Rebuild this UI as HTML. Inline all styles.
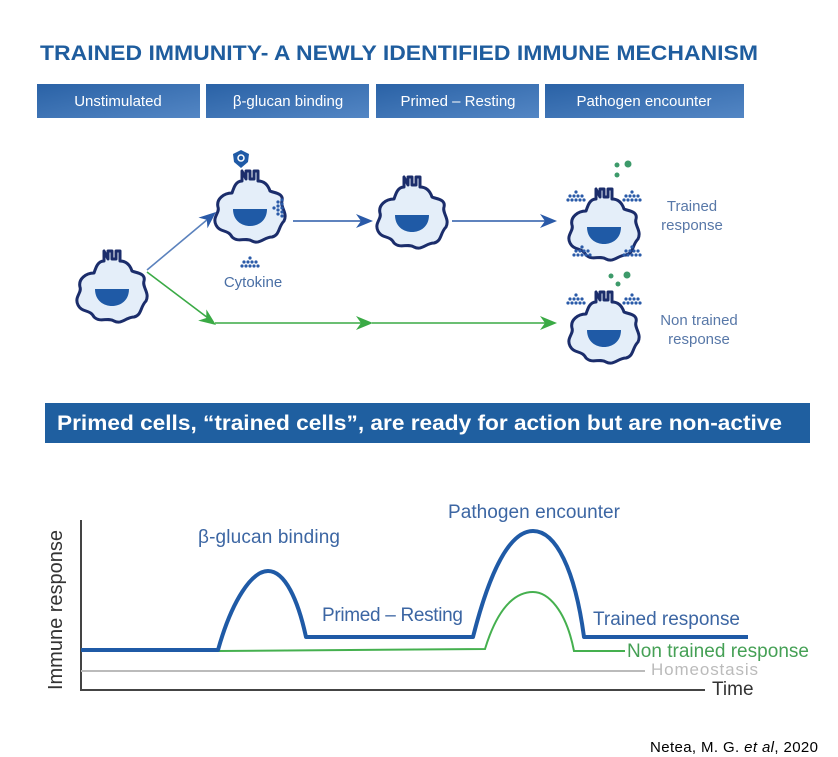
<!DOCTYPE html>
<html><head><meta charset="utf-8"><style>
body{margin:0;background:#fff}
svg{display:block}
text{font-family:"Liberation Sans",sans-serif}
</style></head><body>
<svg width="838" height="757" viewBox="0 0 838 757" xmlns="http://www.w3.org/2000/svg">
<defs>
<linearGradient id="hg" x1="0" y1="0" x2="1" y2="1"><stop offset="0" stop-color="#2a62a6"/><stop offset="1" stop-color="#5386c4"/></linearGradient>
<g id="cell">
<path d="M-8,-36 L-8,-26 C-14,-26 -16,-20 -18,-14 C-26,-14 -34,-8 -32,0 C-30,6 -38,10 -34,18 C-30,26 -22,22 -18,30 C-12,36 -4,30 2,34 C10,38 14,30 22,30 C30,28 28,20 34,14 C38,6 30,0 32,-6 C34,-14 24,-14 20,-16 C18,-22 14,-26 8,-26 L8,-36 L4,-36 L4,-28 L0,-28 L0,-36 L-4,-36 L-4,-28 Z" fill="#e4eef9" stroke="#1b2d6b" stroke-width="3" stroke-linejoin="round"/>
<path d="M-17,2 L17,2 C17,14 8,19 0,19 C-8,19 -17,14 -17,2 Z" fill="#1f5aa6"/>
</g>
<g id="dots" fill="#2a5aa8"><circle cx="0" cy="0" r="1.6"/><circle cx="4" cy="0" r="1.6"/><circle cx="8" cy="0" r="1.6"/><circle cx="2" cy="-4" r="1.6"/><circle cx="6" cy="-4" r="1.6"/><circle cx="4" cy="-8" r="1.6"/><circle cx="-4" cy="0" r="1.6"/><circle cx="12" cy="0" r="1.6"/><circle cx="-2" cy="-4" r="1.6"/><circle cx="10" cy="-4" r="1.6"/></g>
<polygon id="ah" points="0,0 -17,-7 -12,0 -17,7"/>
</defs>
<text x="40" y="60" font-size="21" font-weight="bold" fill="#1f5d9e" textLength="718" lengthAdjust="spacingAndGlyphs">TRAINED IMMUNITY- A NEWLY IDENTIFIED IMMUNE MECHANISM</text>
<g font-size="15" fill="#fff" text-anchor="middle">
<rect x="37" y="84" width="163" height="34" fill="url(#hg)"/><text x="118" y="106">Unstimulated</text>
<rect x="206" y="84" width="163" height="34" fill="url(#hg)"/><text x="288" y="106">β-glucan binding</text>
<rect x="376" y="84" width="163" height="34" fill="url(#hg)"/><text x="458" y="106">Primed – Resting</text>
<rect x="545" y="84" width="199" height="34" fill="url(#hg)"/><text x="644" y="106">Pathogen encounter</text>
</g>
<g stroke-width="1.6" fill="none">
<line x1="147" y1="270" x2="208" y2="219" stroke="#5b82bd"/>
<line x1="147" y1="272" x2="208" y2="318" stroke="#3aaa45"/>
<line x1="293" y1="221" x2="362" y2="221" stroke="#2a5aa8"/>
<line x1="452" y1="221" x2="548" y2="221" stroke="#2a5aa8"/>
<line x1="215" y1="323" x2="362" y2="323" stroke="#3aaa45"/>
<line x1="372" y1="323" x2="548" y2="323" stroke="#3aaa45"/>
</g>
<use href="#ah" fill="#2a5aa8" transform="translate(216,212) rotate(-40)"/>
<use href="#ah" fill="#3aaa45" transform="translate(216,325) rotate(36)"/>
<use href="#ah" fill="#2a5aa8" transform="translate(373,221)"/>
<use href="#ah" fill="#2a5aa8" transform="translate(557,221)"/>
<use href="#ah" fill="#3aaa45" transform="translate(373,323)"/>
<use href="#ah" fill="#3aaa45" transform="translate(557,323)"/>
<use href="#cell" transform="translate(112,287)"/>
<use href="#cell" transform="translate(250,207)"/>
<use href="#cell" transform="translate(412,213)"/>
<use href="#cell" transform="translate(604,225)"/>
<use href="#cell" transform="translate(604,328)"/>
<path d="M233,154 L241,150 L249,154 L248,162 L241,168 L234,162 Z" fill="#1f5aa6"/>
<circle cx="241" cy="158" r="3" fill="none" stroke="#fff" stroke-width="1.5"/>
<use href="#dots" transform="translate(282,212) rotate(-90)"/>
<use href="#dots" transform="translate(246,266)"/>
<text x="253" y="287" font-size="15" fill="#4a6fa5" text-anchor="middle">Cytokine</text>
<use href="#dots" transform="translate(572,200)"/>
<use href="#dots" transform="translate(628,200)"/>
<use href="#dots" transform="translate(578,255)"/>
<use href="#dots" transform="translate(628,255)"/>
<use href="#dots" transform="translate(572,303)"/>
<use href="#dots" transform="translate(628,303)"/>
<g fill="#3d9a6a"><circle cx="617" cy="165" r="2.5"/><circle cx="617" cy="175" r="2.5"/><circle cx="628" cy="164" r="3.5"/><circle cx="611" cy="276" r="2.5"/><circle cx="618" cy="284" r="2.5"/><circle cx="627" cy="275" r="3.5"/></g>
<g font-size="15" fill="#5878a8" text-anchor="middle">
<text x="692" y="211">Trained</text><text x="692" y="230">response</text>
<text x="699" y="325">Non trained</text><text x="699" y="344">response</text>
</g>
<rect x="45" y="403" width="765" height="40" fill="#1f5fa0"/>
<text x="57" y="430" font-size="21" font-weight="bold" fill="#fff" textLength="725" lengthAdjust="spacingAndGlyphs">Primed cells, “trained cells”, are ready for action but are non-active</text>
<g fill="none">
<line x1="81" y1="520" x2="81" y2="691" stroke="#444" stroke-width="2"/>
<line x1="81" y1="690" x2="705" y2="690" stroke="#444" stroke-width="2"/>
<line x1="81" y1="671" x2="645" y2="671" stroke="#bbb" stroke-width="2"/>
<path d="M81,651 L218,651 L485,649 C500,600 520,592 533,592 C548,592 566,610 574,651 L625,651" stroke="#45b04f" stroke-width="2"/>
<path d="M81,650 L218,650 C232,600 252,571 268,571 C285,571 298,600 306,637 L473,637 C490,570 510,531 533,531 C556,531 575,570 584,637 L748,637" stroke="#1f5aa6" stroke-width="4" stroke-linejoin="round"/>
</g>
<text transform="translate(62,610) rotate(-90)" font-size="20" fill="#333" text-anchor="middle">Immune response</text>
<text x="198" y="543" font-size="19" fill="#3c66a3" textLength="142">β-glucan binding</text>
<text x="322" y="621" font-size="19" fill="#3c66a3" textLength="141">Primed – Resting</text>
<text x="448" y="518" font-size="19" fill="#3c66a3" textLength="172">Pathogen encounter</text>
<text x="593" y="625" font-size="19" fill="#3c66a3" textLength="147">Trained response</text>
<text x="627" y="657" font-size="19" fill="#45a055" textLength="182">Non trained response</text>
<text x="651" y="675" font-size="17" fill="#bbb" textLength="107">Homeostasis</text>
<text x="712" y="695" font-size="19" fill="#333">Time</text>
<text x="650" y="752" font-size="15" fill="#000" textLength="168">Netea, M. G. <tspan font-style="italic">et al</tspan>, 2020</text>
</svg>
</body></html>
